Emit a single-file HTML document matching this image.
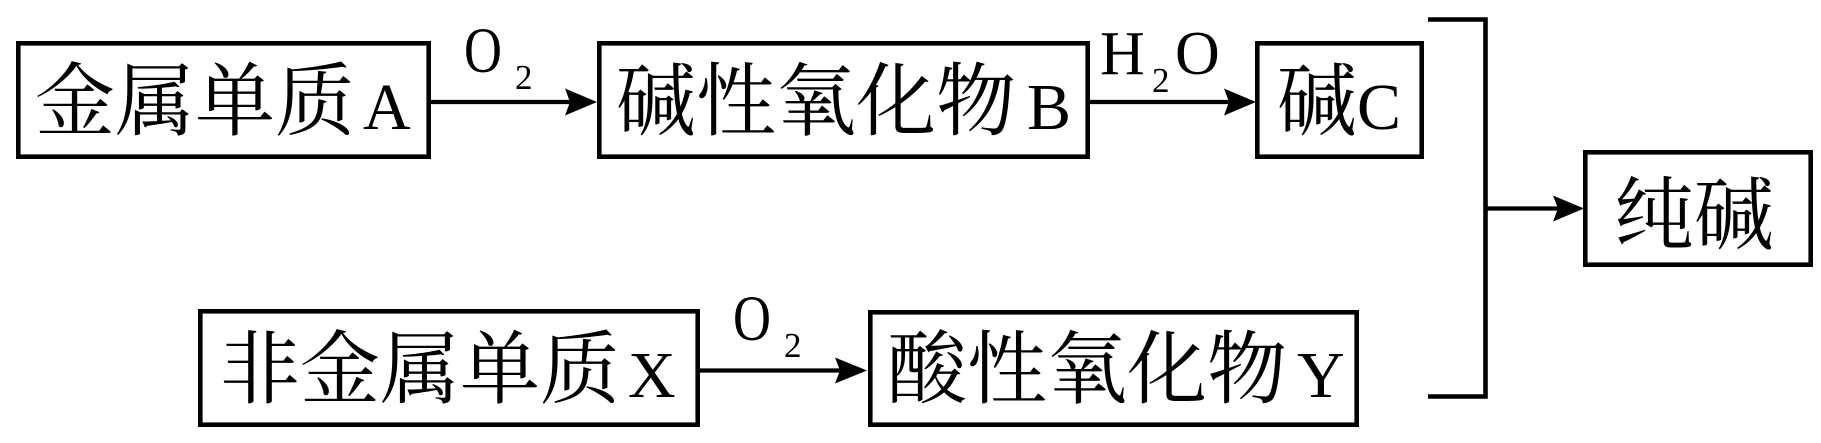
<!DOCTYPE html>
<html>
<head>
<meta charset="utf-8">
<style>
  html, body { margin: 0; padding: 0; background: #fff; }
  body { width: 1821px; height: 443px; overflow: hidden; }
  svg { display: block; }
  .cjk { font-family: "Liberation Serif", "Noto Serif CJK SC", serif; font-size: 80px; fill: #000; }
  .lat { font-family: "Liberation Serif", serif; font-size: 66px; fill: #000; }
  .lbl { font-family: "Liberation Serif", serif; font-size: 62px; fill: #000; }
  .lblo { font-family: "Liberation Serif", serif; font-size: 65px; fill: #000; }
  .sub { font-family: "Liberation Serif", serif; font-size: 35px; fill: #000; }
</style>
</head>
<body>
<svg width="1821" height="443" viewBox="0 0 1821 443" xmlns="http://www.w3.org/2000/svg">
  <rect x="0" y="0" width="1821" height="443" fill="#fff"/>
  <g fill="none" stroke="#000" stroke-width="4.6">
    <rect x="18.3" y="43.3" width="410.4" height="113.4"/>
    <rect x="599.3" y="43.3" width="488.4" height="113.4"/>
    <rect x="1257.3" y="43.3" width="164.4" height="113.4"/>
    <rect x="1585.3" y="152.3" width="225.4" height="112.4"/>
    <rect x="200.3" y="311.3" width="497.4" height="113.4"/>
    <rect x="870.3" y="312.3" width="486.4" height="112.4"/>
  </g>

  <g stroke="#000" stroke-width="4.2" fill="none">
    <line x1="431" y1="102" x2="572" y2="102"/>
    <line x1="1090" y1="102" x2="1230" y2="102"/>
    <line x1="700" y1="370.5" x2="840" y2="370.5"/>
    <line x1="1487" y1="208.5" x2="1560" y2="208.5"/>
  </g>
  <g fill="#000">
    <polygon points="597,102 565,88.5 570,102 565,115.5"/>
    <polygon points="1256,102 1224,88.5 1229,102 1224,115.5"/>
    <polygon points="867,370.5 835,357.5 840,370.5 835,383.5"/>
    <polygon points="1584,208.5 1553,195.5 1558,208.5 1553,221.5"/>
  </g>

  <g stroke="#000" stroke-width="4.6" fill="none" stroke-linecap="butt">
    <polyline points="1428,19.5 1485.5,19.5 1485.5,396.5 1428,396.5"/>
  </g>

  <text class="cjk" x="35" y="129">金属单质</text>
  <text class="lat" x="363" y="129">A</text>

  <text class="cjk" x="616" y="129">碱性氧化物</text>
  <text class="lat" x="1027" y="129">B</text>

  <text class="cjk" x="1277" y="129">碱</text>
  <text class="lat" x="1357" y="129">C</text>

  <text class="cjk" x="1614" y="243">纯碱</text>

  <text class="cjk" x="220" y="397">非金属单质</text>
  <text class="lat" x="628" y="397">X</text>

  <text class="cjk" x="887" y="397">酸性氧化物</text>
  <text class="lat" x="1297" y="397">Y</text>

  <text class="lblo" x="464" y="72" textLength="38" lengthAdjust="spacingAndGlyphs">O</text>
  <text class="sub" x="515" y="89">2</text>

  <text class="lbl" x="1100" y="74">H</text>
  <text class="sub" x="1152" y="92">2</text>
  <text class="lbl" x="1175" y="74">O</text>

  <text class="lblo" x="733" y="340" textLength="38" lengthAdjust="spacingAndGlyphs">O</text>
  <text class="sub" x="784" y="357">2</text>
</svg>
</body>
</html>
